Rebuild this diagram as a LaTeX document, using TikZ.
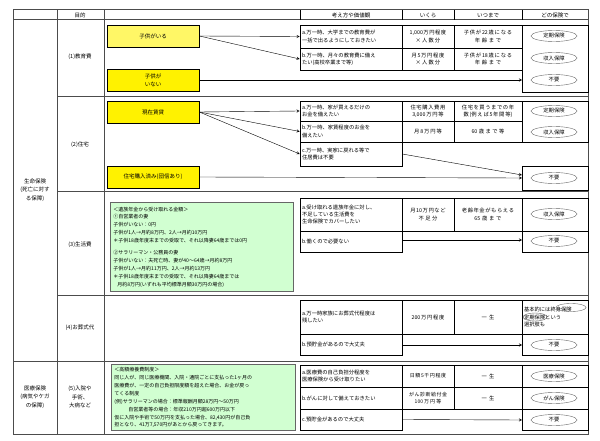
\documentclass[tikz,border=0pt]{standalone}
\usepackage{fontspec}
\setmainfont{Noto Sans CJK JP}
\XeTeXlinebreaklocale "ja"
\XeTeXlinebreakskip=0pt plus 1pt
\usetikzlibrary{shapes.geometric}
\tikzset{>=stealth}
\tikzset{
  cell/.style={draw, line width=0.6pt, inner sep=2pt, font=\fontsize{5.3}{7.4}\selectfont},
  case/.style={draw, line width=0.7pt, fill=yellow, minimum width=92pt, minimum height=22pt, font=\fontsize{5.5}{8}\selectfont, align=center},
  note/.style={draw=black!60, line width=0.9pt, fill=green!18, inner sep=3pt, anchor=north west, align=left, font=\fontsize{5}{7.9}\selectfont},
  ins/.style={draw=black!60, ellipse, minimum width=46pt, minimum height=11pt, inner sep=0pt, font=\fontsize{5.3}{6}\selectfont},
  label/.style={font=\fontsize{5.5}{8.5}\selectfont, align=center},
  sep/.style={black!70, line width=1pt}
}
\newcommand\cell[5]{\cellxy{#1}{#2}#3;#4;{#5}}
\def\cellxy#1#2#3,#4;#5,#6;#7{%
  \pgfmathsetmacro\cw{#5-#3}\pgfmathsetmacro\ch{#6-#4}\pgfmathsetmacro\tw{#5-#3-4}%
  \node[cell, #1, minimum width=\cw pt, minimum height=\ch pt, text width=\tw pt] (#2) at ({(#3+#5)/2},{(#4+#6)/2}) {#7};}
\begin{document}
\begin{tikzpicture}[x=1pt, y=-1pt]
    \useasboundingbox (0,0) rectangle (600,441);
    % frame of the table
    \draw[sep] (13,10) rectangle (588,434);
    \draw[sep] (13,20) -- (588,20);
    \draw[sep] (13,361) -- (588,361);
    \foreach \y in {97,192,295}
    \draw[sep] (57,\y) -- (588,\y);
    \foreach \x in {57,104}
    \draw[sep] (\x,10) -- (\x,434);
    \foreach \x in {300,402,454,522}
    \draw (\x,10) -- (\x,20);
    % header
    \node[label] (hpurpose) at (80,15) {目的};
    \node[label] (hthink) at (351,15) {考え方や価値観};
    \node[label] (hhow) at (428,15) {いくら};
    \node[label] (huntil) at (488,15) {いつまで};
    \node[label] (hwhich) at (555,15) {どの保険で};
    % first column
    \node[label] (life) at (35,190) {生命保険\\(死亡に対す\\る保障)};
    \node[label] (medical) at (35,397) {医療保険\\(病気やケガ\\の保障)};
    \node[label] (p1) at (80,57) {(1)教育費};
    \node[label] (p2) at (80,145) {(2)住宅};
    \node[label] (p3) at (80,245) {(3)生活費};
    \node[label] (p4) at (80,328) {(4)お葬式代};
    \node[label] (p5) at (80,397) {(5)入院や\\手術、\\大病など};
    % (1) education
    \node[case, fill=yellow!60] (kids) at (153,36) {子供がいる};
    \node[case] (nokids) at (153,80) {子供が\\いない};
    \cell{align=left}{e1a}{300,25}{402,48}{a.万一時、大学までの教育費が\\一括で出るようにしておきたい}
    \cell{align=center}{e1b}{402,25}{454,48}{1,000万円程度\\×人数分}
    \cell{align=center}{e1c}{454,25}{522,48}{子供が22歳になる\\年齢まで}
    \cell{align=left}{e2a}{300,48}{402,70}{b.万一時、月々の教育費に備え\\たい(高校卒業まで等)}
    \cell{align=center}{e2b}{402,48}{454,70}{月5万円程度\\×人数分}
    \cell{align=center}{e2c}{454,48}{522,70}{子供が18歳になる\\年齢まで}
    \draw[line width=0.6pt] (522,25) rectangle (588,92);
    \node[ins] (e1ins) at (554,36) {定期保険};
    \node[ins] (e2ins) at (554,58) {収入保障};
    \node[ins] (e3ins) at (554,80) {不要};
    \draw[->] (kids.east) -- (e1a.west);
    \draw[->] (kids.east) -- (e2a.west);
    \coordinate (e3in) at (522,80);
    \draw[->] (nokids.east) -- (e3in);
    % (2) housing
    \node[case] (rent) at (153,112) {現在賃貸};
    \node[case] (owned) at (153,177) {住宅購入済み(団信あり)};
    \cell{align=left}{h1a}{300,101}{402,121}{a.万一時、家が買えるだけの\\お金を備えたい}
    \cell{align=center}{h1b}{402,101}{454,121}{住宅購入費用\\3,000万円等}
    \cell{align=center}{h1c}{454,101}{522,121}{住宅を買うまでの年\\数(例えば5年間等)}
    \cell{align=left}{h2a}{300,121}{402,142}{b.万一時、家賃程度のお金を\\備えたい}
    \cell{align=center}{h2b}{402,121}{454,142}{月8万円等}
    \cell{align=center}{h2c}{454,121}{522,142}{60歳まで等}
    \cell{align=left}{h3a}{300,142}{402,166}{c.万一時、実家に戻れる等で\\住居費は不要}
    \draw[line width=0.6pt] (522,101) rectangle (588,142);
    \draw[line width=0.6pt] (522,166) rectangle (588,190);
    \node[ins] (h1ins) at (554,111) {定期保険};
    \node[ins] (h2ins) at (554,132) {収入保障};
    \node[ins] (h3ins) at (554,178) {不要};
    \draw[->] (rent.east) -- (h1a.west);
    \draw[->] (rent.east) -- (h2a.west);
    \draw[->] (rent.east) -- (h3a.west);
    \coordinate (h3in) at (522,175);
    \coordinate (h4in) at (522,178);
    \draw[->] (h3a.east) -- (h3in);
    \draw[->] (owned.east) -- (h4in);
    % (3) living costs
    \node[note, minimum width=183pt, minimum height=89pt, text width=177pt] (pension) at (110,202) {＜遺族年金から受け取れる金額＞\\
①自営業者の妻\\
子供がいない：0円\\
子供が1人→月約8万円、2人→月約10万円\\
＊子供18歳年度末までの受取で、それ以降妻64歳までは0円\\[4pt]
②サラリーマン・公務員の妻\\
子供がいない：夫死亡時、妻が40～64歳→月約8万円\\
子供が1人→月約11万円、2人→月約13万円\\
＊子供18歳年度末までの受取で、それ以降妻64歳までは\\
\hspace*{4pt}月約8万円(いずれも平均標準月額30万円の場合)};
    \cell{align=left}{l1a}{300,198}{402,231}{a.受け取れる遺族年金に対し、\\不足している生活費を\\生命保険でカバーしたい}
    \cell{align=center}{l1b}{402,198}{454,231}{月10万円など\\不足分}
    \cell{align=center}{l1c}{454,198}{522,231}{老齢年金がもらえる\\65歳まで}
    \cell{align=left}{l2a}{300,231}{402,252}{b.働くので必要ない}
    \draw[line width=0.6pt] (522,198) rectangle (588,252);
    \draw[line width=0.6pt] (522,231) -- (588,231);
    \node[ins] (l1ins) at (554,214) {収入保障};
    \node[ins] (l2ins) at (554,241) {不要};
    \coordinate (l2in) at (522,240);
    \draw[->] (l2a.east |- l2in) -- (l2in);
    % (4) funeral
    \cell{align=left}{f1a}{300,300}{402,334}{a.万一時家族にお葬式代程度は\\残したい}
    \cell{align=center}{f1b}{402,300}{454,334}{200万円程度}
    \cell{align=center}{f1c}{454,300}{522,334}{一生}
    \cell{align=left}{f1d}{522,300}{588,334}{基本的には終身保険\\定期保険という\\選択肢も}
    \cell{align=left}{f2a}{300,334}{402,355}{b.預貯金があるので大丈夫}
    \draw[line width=0.6pt] (522,334) rectangle (588,355);
    \node[draw=black!60, ellipse, inner sep=0pt, minimum width=30pt, minimum height=8pt] (f1ins) at (571,307.5) {};
    \node[draw=black!60, ellipse, inner sep=0pt, minimum width=24pt, minimum height=8pt] (f1alt) at (535,317) {};
    \node[ins] (f2ins) at (554,345) {不要};
    \coordinate (f2in) at (522,345);
    \draw[->] (f2a.east |- f2in) -- (f2in);
    % (5) medical
    \node[note, minimum width=184pt, minimum height=66pt, text width=178pt] (kogaku) at (111,364) {＜高額療養費制度＞\\
同じ人が、同じ医療機関、入院・通院ごとに支払った1ヶ月の\\
医療費が、一定の自己負担限度額を超えた場合、お金が戻っ\\
てくる制度\\
(例)サラリーマンの場合：標準報酬月額28万円～50万円\\
\hspace*{14pt}自営業者等の場合：年収210万円超600万円以下\\
仮に入院や手術で50万円を支払った場合、82,430円が自己負\\
担となり、41万7,570円があとから戻ってきます。};
    \cell{align=left}{m1a}{300,365}{402,387}{a.医療費の自己負担分程度を\\医療保険から受け取りたい}
    \cell{align=center, font=\fontsize{5}{7}\selectfont}{m1b}{402,365}{454,387}{日額5千円程度}
    \cell{align=center}{m1c}{454,365}{522,387}{一生}
    \cell{align=left}{m2a}{300,387}{402,409}{b.がんに対して備えておきたい}
    \cell{align=center, font=\fontsize{5}{7}\selectfont}{m2b}{402,387}{454,409}{がん診断給付金\\100万円等}
    \cell{align=center}{m2c}{454,387}{522,409}{一生}
    \cell{align=left}{m3a}{300,409}{402,430}{c.預貯金があるので大丈夫}
    \draw[line width=0.6pt] (522,365) rectangle (588,430);
    \foreach \y in {387,409}
    \draw[line width=0.6pt] (522,\y) -- (588,\y);
    \node[ins] (m1ins) at (554,376) {医療保険};
    \node[ins] (m2ins) at (554,398) {がん保険};
    \node[ins] (m3ins) at (554,420) {不要};
    \coordinate (m3in) at (522,420);
    \draw[->] (m3a.east) -- (m3in);
\end{tikzpicture}
\end{document}
